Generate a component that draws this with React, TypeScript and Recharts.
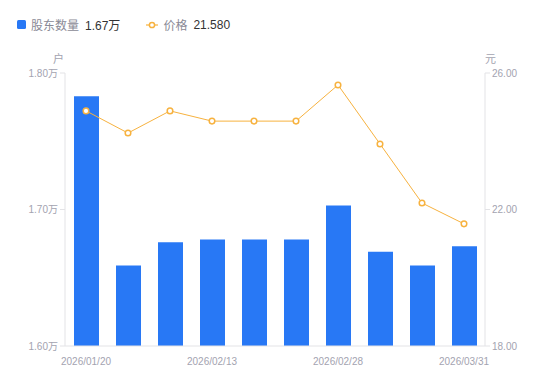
import React from 'react';
import { ComposedChart, Bar, Line, XAxis, YAxis } from 'recharts';

// dates of each report
const dates = [
  '2026/01/20', '2026/01/31', '2026/02/10', '2026/02/13', '2026/02/20',
  '2026/02/25', '2026/02/28', '2026/03/10', '2026/03/20', '2026/03/31',
];
// holders, in 万户
const holders = [1.783, 1.659, 1.676, 1.678, 1.678, 1.678, 1.703, 1.669, 1.659, 1.673];
// price, 元
const prices = [24.89, 24.24, 24.89, 24.59, 24.59, 24.59, 25.65, 23.92, 22.19, 21.58];

const shownDates = ['2026/01/20', '2026/02/13', '2026/02/28', '2026/03/31'];
const leftTicks = [1.6, 1.7, 1.8];
const rightTicks = [18, 22, 26];

const data = dates.map((d, i) => ({ date: d, holders: holders[i], price: prices[i] }));

const FONT = '"Liberation Sans", Arial, "Noto Sans CJK SC", sans-serif';
const BLUE = '#2878f5';
const ORANGE = '#f7b23f';
const AXIS = '#e3e3e6';
const TICK_TEXT = '#a3a3b0';

export default function App() {
  return (
    <div style={{ position: 'absolute', left: 0, top: 0, width: 550, height: 381, fontFamily: FONT, background: '#fff' }}>
      {/* legend */}
      <div style={{ position: 'absolute', left: 17, top: 16, fontSize: 12, display: 'flex', alignItems: 'center', whiteSpace: 'nowrap' }}>
        <span style={{ width: 9, height: 9, background: BLUE, borderRadius: 1.5, display: 'inline-block' }} />
        <span style={{ color: '#8a8a96', marginLeft: 5 }}>股东数量</span>
        <span style={{ color: '#333', marginLeft: 6 }}>1.67万</span>
        <svg width={12} height={8} style={{ marginLeft: 26 }}>
          <line x1={0} y1={4} x2={12} y2={4} stroke={ORANGE} strokeWidth={1.2} />
          <circle cx={6} cy={4} r={2.6} fill="#fff" stroke={ORANGE} strokeWidth={1.5} />
        </svg>
        <span style={{ color: '#8a8a96', marginLeft: 5 }}>价格</span>
        <span style={{ color: '#333', marginLeft: 6 }}>21.580</span>
      </div>
      <span style={{ position: 'absolute', left: 53, top: 50, fontSize: 11, color: TICK_TEXT }}>户</span>
      <span style={{ position: 'absolute', left: 485, top: 50, fontSize: 11, color: TICK_TEXT }}>元</span>

      <ComposedChart width={550} height={381} data={data} margin={{ top: 73, right: 0, bottom: 0, left: 0 }}>
        <XAxis
          dataKey="date"
          height={35}
          ticks={shownDates}
          interval={0}
          tickLine={false}
          axisLine={{ stroke: AXIS }}
          tick={{ fill: TICK_TEXT, fontSize: 10 }}
          tickMargin={6}
        />
        <YAxis
          yAxisId="left"
          orientation="left"
          width={65}
          domain={[1.6, 1.8]}
          ticks={leftTicks}
          tickFormatter={(v: number) => `${v.toFixed(2)}万`}
          tick={{ fill: TICK_TEXT, fontSize: 10 }}
          tickSize={5}
          tickLine={{ stroke: AXIS }}
          axisLine={{ stroke: AXIS }}
          allowDataOverflow
        />
        <YAxis
          yAxisId="right"
          orientation="right"
          width={65}
          domain={[18, 26]}
          ticks={rightTicks}
          tickFormatter={(v: number) => v.toFixed(2)}
          tick={{ fill: TICK_TEXT, fontSize: 10 }}
          tickSize={5}
          tickLine={{ stroke: AXIS }}
          axisLine={{ stroke: AXIS }}
        />
        <Bar yAxisId="left" dataKey="holders" fill={BLUE} barSize={25} isAnimationActive={false} />
        <Line
          yAxisId="right"
          type="linear"
          dataKey="price"
          stroke={ORANGE}
          strokeWidth={1}
          dot={{ r: 2.8, fill: '#fff', stroke: ORANGE, strokeWidth: 1.5 }}
          isAnimationActive={false}
        />
      </ComposedChart>
    </div>
  );
}
